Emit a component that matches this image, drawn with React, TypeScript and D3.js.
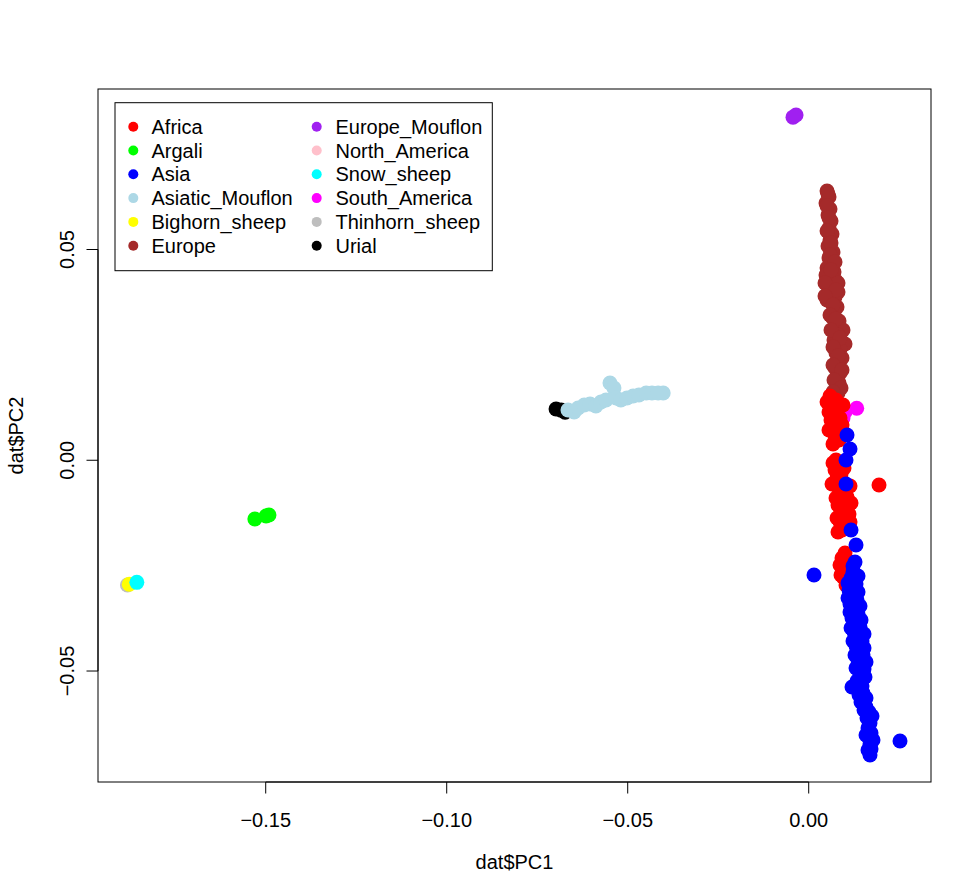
import React from "react";
import * as d3 from "d3";

type Pt = [number, number];

const groupNames = [
  "Africa", "Argali", "Asia", "Asiatic_Mouflon", "Bighorn_sheep", "Europe",
  "Europe_Mouflon", "North_America", "Snow_sheep", "South_America", "Thinhorn_sheep", "Urial",
];
const groupColors = [
  "#FF0000", "#00FF00", "#0000FF", "#ADD8E6", "#FFFF00", "#A52A2A",
  "#A020F0", "#FFC0CB", "#00FFFF", "#FF00FF", "#BEBEBE", "#000000",
];

const europe: Pt[] = [
  [0.00506, 0.06388], [0.00561, 0.06246], [0.00478, 0.06103], [0.00588, 0.05961], [0.00533, 0.05818],
  [0.00616, 0.05676], [0.00561, 0.0551], [0.00644, 0.05368], [0.00588, 0.05225], [0.00533, 0.05083],
  [0.00671, 0.04941], [0.00561, 0.04798], [0.00644, 0.0468], [0.00506, 0.04561], [0.00699, 0.04466],
  [0.00588, 0.04348], [0.00754, 0.04253], [0.00561, 0.04158], [0.00671, 0.04063], [0.00533, 0.03968],
  [0.00727, 0.03873], [0.00616, 0.03754], [0.00782, 0.03636], [0.00699, 0.03517], [0.00644, 0.03399],
  [0.00837, 0.03304], [0.00727, 0.03185], [0.00947, 0.0309], [0.00809, 0.02972], [0.00699, 0.02853],
  [0.01003, 0.02758], [0.00865, 0.02639], [0.00754, 0.02544], [0.0092, 0.02426], [0.00809, 0.02307],
  [0.00727, 0.02189], [0.00865, 0.0207], [0.00782, 0.01951], [0.00837, 0.01833], [0.00754, 0.01714],
  [0.00809, 0.01596], [0.00699, 0.01477], [0.00754, 0.01358], [0.00478, 0.04395], [0.00809, 0.04205],
  [0.00506, 0.03802], [0.00809, 0.03992],
  [0.00533, 0.06317], [0.00506, 0.06032], [0.00561, 0.05747], [0.00506, 0.05439], [0.00616, 0.05154],
  [0.00588, 0.0487], [0.00727, 0.04703], [0.00616, 0.04514], [0.0045, 0.04205], [0.00754, 0.04039],
  [0.0045, 0.03897], [0.00671, 0.03683], [0.00588, 0.03446], [0.00754, 0.03351], [0.00616, 0.0309],
  [0.00865, 0.029], [0.00671, 0.02687], [0.00809, 0.02473], [0.00671, 0.0226], [0.0092, 0.02141],
  [0.00699, 0.01904], [0.00892, 0.01714], [0.00671, 0.01619],
];
const southAmerica: Pt[] = [[0.00947, 0.01002], [0.01003, 0.01145], [0.01326, 0.01233]];
const africa: Pt[] = [
  [0.00588, 0.01524], [0.00754, 0.01429], [0.00644, 0.01311], [0.00809, 0.0124], [0.00561, 0.01145],
  [0.00699, 0.01074], [0.00865, 0.01002], [0.00616, 0.00955], [0.00754, 0.0086], [0.00671, 0.00765],
  [0.00809, 0.0067], [0.00727, 0.00575], [0.00837, 0.0048],
  [0.00506, 0.01382], [0.00947, 0.01311], [0.0092, 0.00836], [0.00561, 0.00718], [0.00671, 0.00386],
  [0.00754, 0.00006], [0.00865, -0.00113], [0.00727, -0.00231], [0.00892, -0.00326], [0.00782, -0.00421],
  [0.00947, -0.00516], [0.00809, -0.00635], [0.01003, -0.00706], [0.00865, -0.00801], [0.01058, -0.00872],
  [0.0092, -0.00967], [0.00809, -0.01062], [0.0103, -0.01133], [0.00892, -0.01228], [0.01113, -0.01275],
  [0.00975, -0.0137], [0.00865, -0.01465], [0.0103, -0.0156], [0.0092, -0.01655],
  [0.00671, -0.00065], [0.00975, -0.00184], [0.00644, -0.00563], [0.01141, -0.00611], [0.00754, -0.00896],
  [0.01169, -0.01014], [0.00782, -0.0137], [0.01141, -0.01465], [0.00809, -0.01702],
  [0.01003, -0.022], [0.0092, -0.02319], [0.01086, -0.02414], [0.00975, -0.02533], [0.01058, -0.02651],
  [0.00947, -0.0277], [0.01113, -0.02865], [0.0103, -0.0296],
  [0.00865, -0.02485], [0.01169, -0.02556], [0.00892, -0.02722],
  [0.01942, -0.00587],
];
const asia: Pt[] = [
  [0.01058, 0.00599], [0.01141, 0.00267], [0.0103, 0.00006], [0.0103, -0.00563], [0.01169, -0.01655],
  [0.01307, -0.02011], [0.00146, -0.02722], [0.02522, -0.06661],
  [0.01279, -0.02414], [0.01224, -0.02651], [0.01169, -0.02794], [0.01307, -0.02936], [0.01113, -0.03078],
  [0.01224, -0.03221], [0.01334, -0.03316], [0.01141, -0.0341], [0.01279, -0.03529], [0.01362, -0.03648],
  [0.01196, -0.03743], [0.01307, -0.03861], [0.01417, -0.03956], [0.01251, -0.04075], [0.01362, -0.04193],
  [0.01472, -0.04288], [0.01307, -0.04407], [0.01417, -0.04525], [0.015, -0.0462], [0.01362, -0.04739],
  [0.01445, -0.04858], [0.01528, -0.04953], [0.01417, -0.05071], [0.01334, -0.05237], [0.01472, -0.05356],
  [0.01196, -0.05379], [0.015, -0.05522], [0.01583, -0.05641], [0.01445, -0.05735], [0.01583, -0.05854],
  [0.01666, -0.05973], [0.0161, -0.06115], [0.01693, -0.06234], [0.01638, -0.06352], [0.01721, -0.06471],
  [0.01666, -0.0659], [0.01693, -0.06732], [0.01721, -0.06851], [0.01693, -0.06993],
  [0.01224, -0.02509], [0.01362, -0.02746], [0.01086, -0.02912], [0.01362, -0.03126], [0.01086, -0.03268],
  [0.01417, -0.03458], [0.01141, -0.036], [0.01445, -0.0379], [0.01169, -0.0398], [0.01528, -0.04122],
  [0.01224, -0.04288], [0.01528, -0.04454], [0.01279, -0.0462], [0.01583, -0.04787], [0.01307, -0.04929],
  [0.01555, -0.05142], [0.0139, -0.05569], [0.01528, -0.05925], [0.01748, -0.06068], [0.01583, -0.06518],
  [0.01776, -0.06637], [0.01638, -0.06874],
];
const urial: Pt[] = [[-0.0698, 0.01216], [-0.0684, 0.0119], [-0.0673, 0.0114]];
const asiaticMouflon: Pt[] = [
  [-0.0665, 0.01192], [-0.0648, 0.01145], [-0.0637, 0.0124], [-0.062, 0.0131], [-0.0604, 0.01335],
  [-0.0588, 0.01287], [-0.0574, 0.01382], [-0.056, 0.0143], [-0.0549, 0.01833], [-0.0538, 0.01714],
  [-0.0532, 0.01477], [-0.0519, 0.0143], [-0.0502, 0.01477], [-0.0485, 0.01524], [-0.0469, 0.01548],
  [-0.0449, 0.01596], [-0.0433, 0.01596], [-0.0416, 0.01596], [-0.0402, 0.01596],
];
const argali: Pt[] = [[-0.153, -0.01394], [-0.1499, -0.01323], [-0.1491, -0.01299]];
const thinhorn: Pt[] = [[-0.1882, -0.0296]];
const bighorn: Pt[] = [[-0.1877, -0.02943]];
const snowSheep: Pt[] = [[-0.1856, -0.02896]];
const europeMouflon: Pt[] = [[-0.00434, 0.0814], [-0.0035, 0.0819]];

const xTicks = [-0.15, -0.1, -0.05, 0.0];
const yTicks = [-0.05, 0.0, 0.05];
const xLimits: [number, number] = [-0.19633, 0.03378];
const yLimits: [number, number] = [-0.07633, 0.08808];

const drawOrder: [Pt[], string][] = [
  [europe, "Europe"],
  [southAmerica, "South_America"],
  [africa, "Africa"],
  [asia, "Asia"],
  [urial, "Urial"],
  [asiaticMouflon, "Asiatic_Mouflon"],
  [argali, "Argali"],
  [thinhorn, "Thinhorn_sheep"],
  [bighorn, "Bighorn_sheep"],
  [snowSheep, "Snow_sheep"],
  [europeMouflon, "Europe_Mouflon"],
];

const FONT = "'Liberation Sans', Arial, Helvetica, sans-serif";

export default function App() {
  const W = 971, H = 894;
  const left = 98, right = 931, top = 89, bottom = 782;
  const x = d3.scaleLinear().domain(xLimits).range([left, right]);
  const y = d3.scaleLinear().domain(yLimits).range([bottom, top]);
  const colorOf = (name: string) => groupColors[groupNames.indexOf(name)];
  const fmt = (v: number) => d3.format(".2f")(v).replace("-", "\u2212");

  const legX = 115, legY = 102.7, legW = 377.3, legH = 168;
  const rowH = 23.8;

  return (
    <div style={{ position: "absolute", left: 0, top: 0 }}>
      <svg width={W} height={H} style={{ display: "block", background: "#fff" }} fontFamily={FONT}>
        <rect x={0} y={0} width={W} height={H} fill="#fff" />
        {drawOrder.map(([pts, name]) =>
          pts.map((p, i) => (
            <circle key={name + i} cx={x(p[0])} cy={y(p[1])} r={7.5} fill={colorOf(name)} />
          ))
        )}
        <rect x={left} y={top} width={right - left} height={bottom - top} fill="none" stroke="#000" strokeWidth={1} />
        <line x1={x(xTicks[0])} x2={x(xTicks[xTicks.length - 1])} y1={bottom} y2={bottom} stroke="#000" />
        {xTicks.map((t) => (
          <g key={"xt" + t}>
            <line x1={x(t)} x2={x(t)} y1={bottom} y2={bottom + 11.5} stroke="#000" />
            <text x={x(t)} y={827} textAnchor="middle" fontSize={20}>{fmt(t)}</text>
          </g>
        ))}
        <line x1={left} x2={left} y1={y(yTicks[0])} y2={y(yTicks[yTicks.length - 1])} stroke="#000" />
        {yTicks.map((t) => (
          <g key={"yt" + t}>
            <line x1={left - 11.5} x2={left} y1={y(t)} y2={y(t)} stroke="#000" />
            <text transform={`translate(74,${y(t)}) rotate(-90)`} textAnchor="middle" fontSize={20}>{fmt(t)}</text>
          </g>
        ))}
        <text x={(left + right) / 2} y={869} textAnchor="middle" fontSize={20}>dat$PC1</text>
        <text transform={`translate(23,${(top + bottom) / 2}) rotate(-90)`} textAnchor="middle" fontSize={20}>dat$PC2</text>
        <rect x={legX} y={legY} width={legW} height={legH} fill="#fff" stroke="#000" strokeWidth={1} />
        {groupNames.map((name, i) => {
          const col = Math.floor(i / 6);
          const row = i % 6;
          const cy = 126.7 + row * rowH;
          const px = col === 0 ? 133.3 : 316.7;
          const tx = col === 0 ? 151.5 : 335.5;
          return (
            <g key={"lg" + name}>
              <circle cx={px} cy={cy} r={5} fill={groupColors[i]} />
              <text x={tx} y={cy + 7} fontSize={20}>{name}</text>
            </g>
          );
        })}
      </svg>
    </div>
  );
}
